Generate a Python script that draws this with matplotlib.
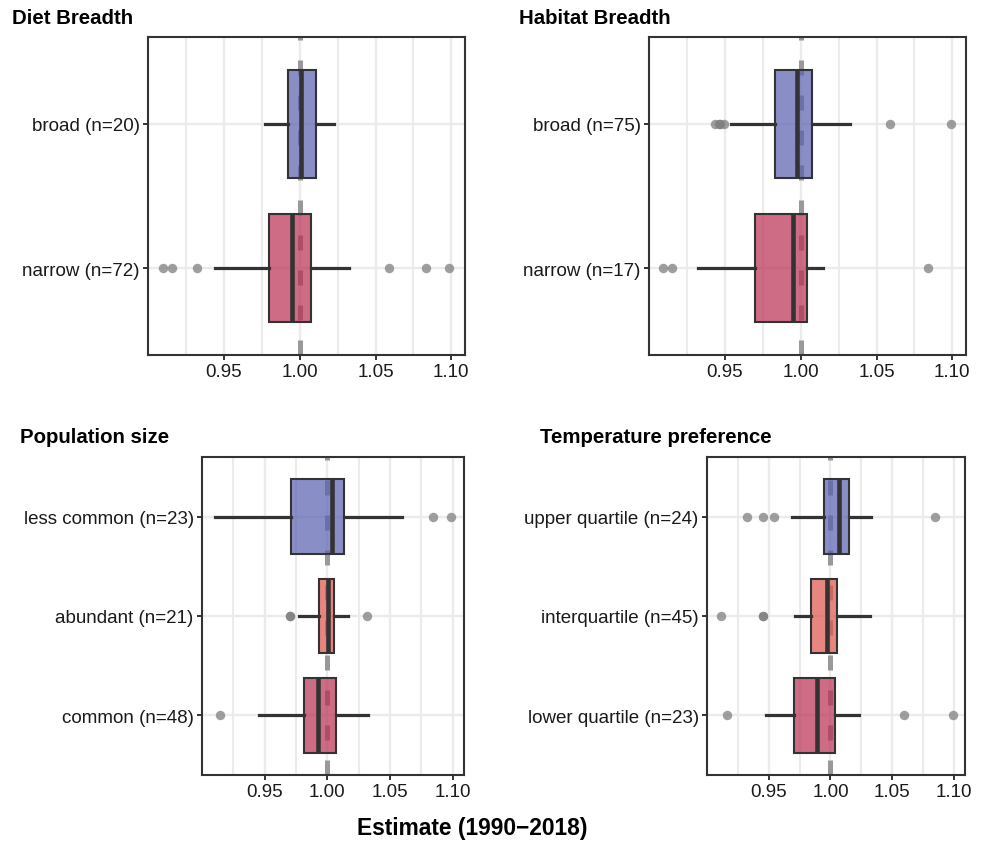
import matplotlib.pyplot as plt
from matplotlib.colors import to_rgba

plt.rcParams['font.family'] = ['Liberation Sans', 'DejaVu Sans']

BLUE = '#595FB0'
CRIMSON = '#BA2D51'
SALMON = '#DE524A'

# Diet Breadth (bottom -> top)
diet_labels = ['narrow (n=72)', 'broad (n=20)']
diet_whislo = [0.9443, 0.9770]
diet_q1 = [0.9798, 0.9923]
diet_med = [0.9952, 1.0007]
diet_q3 = [1.0072, 1.0105]
diet_whishi = [1.0322, 1.0228]
diet_fliers = [[0.9100, 0.9160, 0.9324, 1.0586, 1.0833, 1.0987], []]
diet_colors = [CRIMSON, BLUE]

# Habitat Breadth
hab_labels = ['narrow (n=17)', 'broad (n=75)']
hab_whislo = [0.9320, 0.9543]
hab_q1 = [0.9702, 0.9834]
hab_med = [0.9949, 0.9974]
hab_q3 = [1.0040, 1.0077]
hab_whishi = [1.0150, 1.0325]
hab_fliers = [[0.9095, 0.9152, 1.0839],
              [0.9437, 0.9459, 0.9470, 0.9492, 1.0589, 1.0989]]
hab_colors = [CRIMSON, BLUE]

# Population size
pop_labels = ['common (n=48)', 'abundant (n=21)', 'less common (n=23)']
pop_whislo = [0.9452, 0.9777, 0.9100]
pop_q1 = [0.9814, 0.9934, 0.9709]
pop_med = [0.9929, 1.0003, 1.0040]
pop_q3 = [1.0069, 1.0051, 1.0133]
pop_whishi = [1.0322, 1.0162, 1.0592]
pop_fliers = [[0.9146], [0.9703, 0.9703, 1.0314], [1.0839, 1.0990]]
pop_colors = [CRIMSON, SALMON, BLUE]

# Temperature preference
temp_labels = ['lower quartile (n=23)', 'interquartile (n=45)', 'upper quartile (n=24)']
temp_whislo = [0.9478, 0.9712, 0.9690]
temp_q1 = [0.9707, 0.9846, 0.9949]
temp_med = [0.9895, 0.9970, 1.0067]
temp_q3 = [1.0038, 1.0054, 1.0151]
temp_whishi = [1.0232, 1.0322, 1.0331]
temp_fliers = [[0.9160, 1.0594, 1.0996], [0.9111, 0.9451, 0.9451], [0.9322, 0.9451, 0.9546, 1.0848]]
temp_colors = [CRIMSON, SALMON, BLUE]

x_ticks = [0.95, 1.00, 1.05, 1.10]
x_minor = [0.925, 0.975, 1.025, 1.075]


def draw_panel(ax, labels, whislo, q1, med, q3, whishi, fliers, colors):
    stats = []
    for i in range(len(labels)):
        stats.append(dict(whislo=whislo[i], q1=q1[i], med=med[i], q3=q3[i],
                          whishi=whishi[i], fliers=fliers[i]))
    pos = list(range(1, len(labels) + 1))
    ax.axvline(1.0, color='#999999', lw=3.6, dashes=(3, 4), zorder=1.5)
    res = ax.bxp(stats, positions=pos, widths=0.75, orientation='horizontal',
                 patch_artist=True, showcaps=False, manage_ticks=False, zorder=2,
                 boxprops=dict(edgecolor='#333333', linewidth=1.5),
                 whiskerprops=dict(color='#333333', linewidth=2.3),
                 medianprops=dict(color='#333333', linewidth=3.3),
                 flierprops=dict(marker='o', markersize=6.8, markerfacecolor='#7F7F7F',
                                 markeredgecolor='none', alpha=0.75))
    for patch, c in zip(res['boxes'], colors):
        patch.set_facecolor(to_rgba(c, 0.7))
    ax.set_xlim(0.900, 1.109)
    ax.set_ylim(0.4, len(labels) + 0.6)
    ax.set_xticks(x_ticks)
    ax.set_xticklabels([f'{t:.2f}' for t in x_ticks])
    ax.set_xticks(x_minor, minor=True)
    ax.set_yticks(pos)
    ax.set_yticklabels(labels)
    ax.set_axisbelow(True)
    ax.grid(which='major', color='#EBEBEB', lw=1.7)
    ax.grid(which='minor', axis='x', color='#EBEBEB', lw=1.5)
    ax.tick_params(which='major', length=3.5, width=1.4, color='#333333',
                   labelsize=13.5, labelcolor='#1A1A1A', pad=2.5)
    ax.tick_params(which='minor', length=0)
    for s in ax.spines.values():
        s.set_color('#333333')
        s.set_linewidth(1.5)


W, H = 986, 845
fig = plt.figure(figsize=(W / 100, H / 100), dpi=100)


def box_axes(x0, y0, x1, y1):
    return fig.add_axes([x0 / W, 1 - y1 / H, (x1 - x0) / W, (y1 - y0) / H])


ax1 = box_axes(148, 38, 465, 356)
ax2 = box_axes(649, 38, 966, 356)
ax3 = box_axes(202, 458, 464, 776)
ax4 = box_axes(707, 458, 965, 776)

draw_panel(ax1, diet_labels, diet_whislo, diet_q1, diet_med, diet_q3, diet_whishi, diet_fliers, diet_colors)
draw_panel(ax2, hab_labels, hab_whislo, hab_q1, hab_med, hab_q3, hab_whishi, hab_fliers, hab_colors)
draw_panel(ax3, pop_labels, pop_whislo, pop_q1, pop_med, pop_q3, pop_whishi, pop_fliers, pop_colors)
draw_panel(ax4, temp_labels, temp_whislo, temp_q1, temp_med, temp_q3, temp_whishi, temp_fliers, temp_colors)

title_kw = dict(fontsize=14.7, fontweight='bold', va='center', ha='left')
fig.text(12 / W, 1 - 18 / H, 'Diet Breadth', **title_kw)
fig.text(519 / W, 1 - 18 / H, 'Habitat Breadth', **title_kw)
fig.text(20 / W, 1 - 438 / H, 'Population size', **title_kw)
fig.text(540 / W, 1 - 438 / H, 'Temperature preference', **title_kw)
fig.text(472 / W, 1 - 829 / H, 'Estimate (1990\u22122018)', fontsize=16.4, fontweight='bold',
         ha='center', va='center')

fig.savefig('out.png', dpi=100)
